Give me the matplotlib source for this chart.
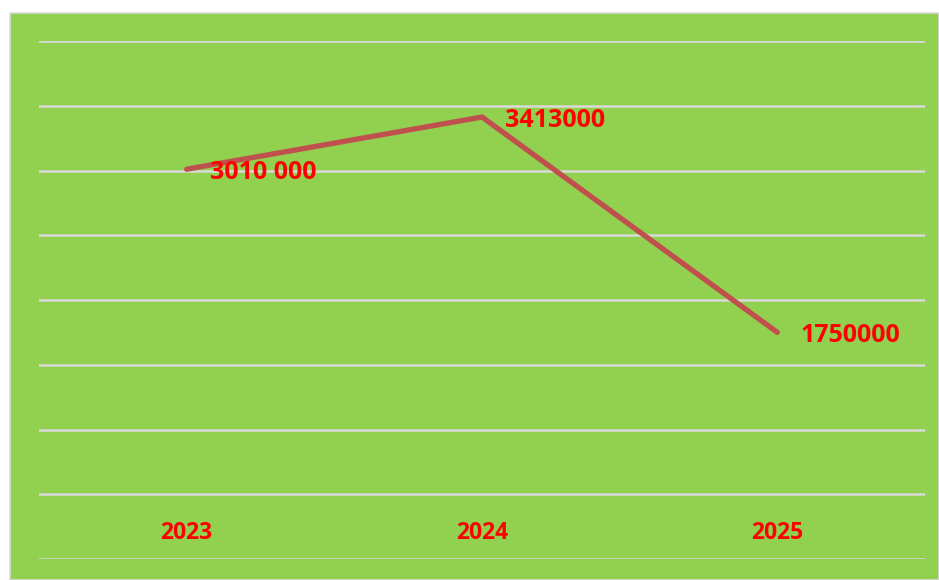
import matplotlib
matplotlib.use("Agg")
import matplotlib.pyplot as plt
from matplotlib.patches import Rectangle
from matplotlib.transforms import blended_transform_factory

categories = ["2023", "2024", "2025"]
values = [3010000, 3413000, 1750000]
value_labels = ["3010 000", "3413000", "1750000"]

W, H = 939, 580
fig = plt.figure(figsize=(W / 100, H / 100), dpi=100)
fig.patch.set_facecolor("white")

# chart area background
bg = Rectangle((10 / W, 0), 1 - 10 / W, 1 - 13 / H, transform=fig.transFigure,
               facecolor="#92D050", edgecolor="#D9D9D9", linewidth=1.2, zorder=-10)
fig.patches.append(bg)

ax = fig.add_axes([39 / W, 1 - 559 / H, 886 / W, (559 - 41) / H])
ax.set_zorder(1)
ax.set_facecolor("none")
x = list(range(len(categories)))
ax.set_xlim(-0.5, len(categories) - 0.5)
ax.set_ylim(0, 4000000)
ax.set_yticks(range(0, 4000001, 500000))
ax.yaxis.grid(True, color="#D9D9D9", linewidth=1.8)
ax.set_axisbelow(True)
ax.tick_params(left=False, bottom=False, labelleft=False, labelbottom=False)
for s in ax.spines.values():
    s.set_visible(False)

ax.plot(x, values, color="#C0504D", linewidth=3.8, solid_capstyle="round",
        solid_joinstyle="miter", zorder=3, clip_on=False)

font = dict(family=["Open Sans", "DejaVu Sans"], fontweight="bold", color="#FF0000")
for xi, v, lab in zip(x, values, value_labels):
    ax.annotate(lab, (xi, v), xytext=(16.5, -2.5), textcoords="offset points",
                ha="left", va="center", zorder=4, fontsize=18, **font)

trans = blended_transform_factory(ax.transData, ax.transAxes)
for xi, c in zip(x, categories):
    ax.text(xi, 26 / 518, c, transform=trans, ha="center", va="center", fontsize=16.5, **font)

fig.savefig("out.png", dpi=100, facecolor=fig.get_facecolor())
